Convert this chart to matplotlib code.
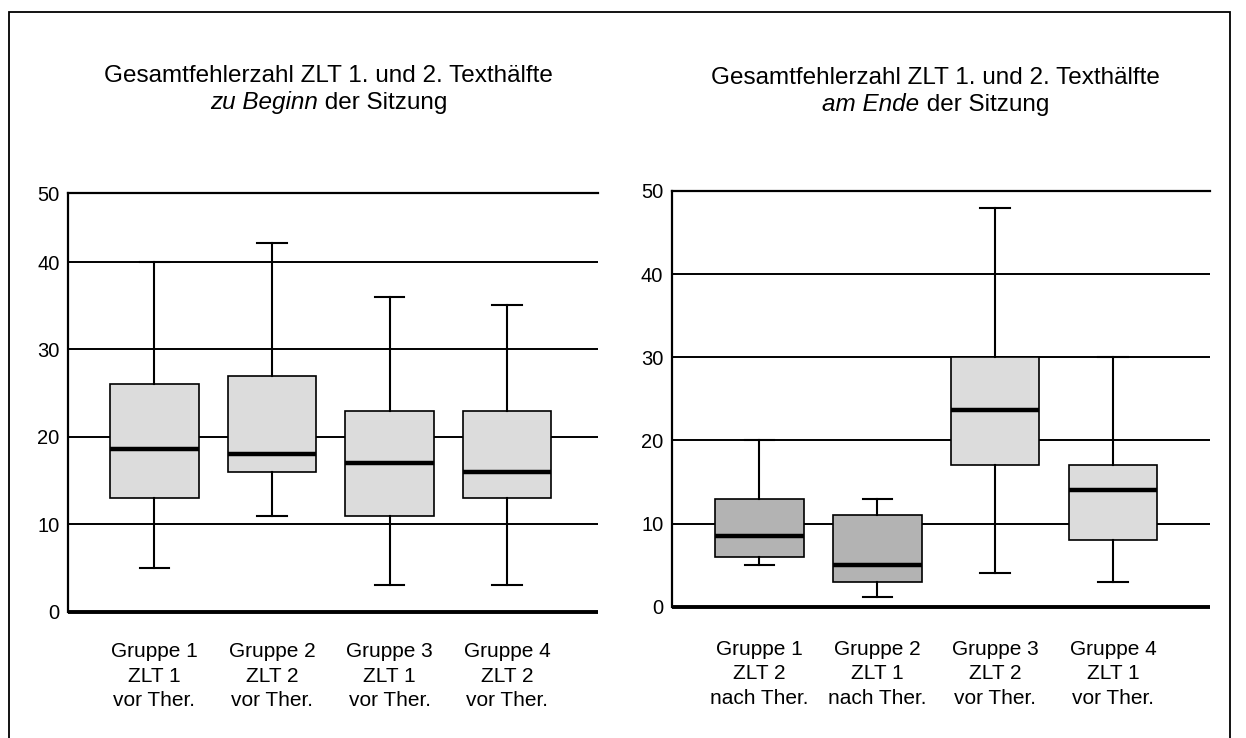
import numpy as np
import matplotlib.pyplot as plt
from matplotlib.patches import Rectangle

plt.rcParams['font.family'] = ['Liberation Sans', 'DejaVu Sans']

# Gesamtfehlerzahl, Box-Kennwerte je Gruppe
labels_begin = ["Gruppe 1\nZLT 1\nvor Ther.", "Gruppe 2\nZLT 2\nvor Ther.",
                "Gruppe 3\nZLT 1\nvor Ther.", "Gruppe 4\nZLT 2\nvor Ther."]
begin_whislo = [5, 11, 3, 3]
begin_q1 = [13, 16, 11, 13]
begin_med = [18.6, 18, 17, 16]
begin_q3 = [26, 27, 23, 23]
begin_whishi = [40, 42.2, 36, 35.1]

labels_end = ["Gruppe 1\nZLT 2\nnach Ther.", "Gruppe 2\nZLT 1\nnach Ther.",
              "Gruppe 3\nZLT 2\nvor Ther.", "Gruppe 4\nZLT 1\nvor Ther."]
end_whislo = [5, 1.2, 4, 3]
end_q1 = [6, 3, 17, 8]
end_med = [8.5, 5, 23.6, 14]
end_q3 = [13, 11, 30, 17]
end_whishi = [20, 13, 48, 30]

ytick_labels = ["0", "10", "20", "30", "40", "50"]
# in der Vorlage sitzt die obere "50"-Linie links etwas tiefer als 50
begin_ytop = 47.9
end_ytop = 50

LIGHT = '#dcdcdc'
DARK = '#b3b3b3'
begin_colors = [LIGHT, LIGHT, LIGHT, LIGHT]
end_colors = [DARK, DARK, LIGHT, LIGHT]

W, H = 1246, 738
fig = plt.figure(figsize=(W / 100, H / 100), dpi=100)

# Rahmen um die ganze Grafik
fig.patches.append(Rectangle((9 / W, -0.1), (1230 - 9) / W, 1.1 - 12 / H,
                             transform=fig.transFigure, fill=False,
                             edgecolor='black', linewidth=1.3))


def px_axes(x0, x1, y_top, y_bot):
    return fig.add_axes([x0 / W, 1 - y_bot / H, (x1 - x0) / W, (y_bot - y_top) / H])


def draw_panel(ax, whislo, q1, med, q3, whishi, colors, labels, xlim, ytop, labelpad):
    stats = []
    for i in range(len(med)):
        stats.append(dict(whislo=whislo[i], q1=q1[i], med=med[i], q3=q3[i],
                          whishi=whishi[i], fliers=[]))
    pos = np.arange(1, len(med) + 1)
    bp = ax.bxp(stats, positions=pos, widths=0.752, capwidths=0.25,
                patch_artist=True, showfliers=False,
                boxprops=dict(edgecolor='black', linewidth=1.2),
                whiskerprops=dict(color='black', linewidth=1.5),
                capprops=dict(color='black', linewidth=1.5),
                medianprops=dict(color='black', linewidth=3.2, solid_capstyle='butt'),
                zorder=3)
    for patch, c in zip(bp['boxes'], colors):
        patch.set_facecolor(c)
    ax.set_xlim(*xlim)
    ax.set_ylim(0, ytop)
    ax.set_yticks([0, 10, 20, 30, 40, ytop])
    ax.set_yticklabels(ytick_labels)
    ax.yaxis.grid(True, color='black', linewidth=1.4, zorder=0)
    ax.set_axisbelow(True)
    ax.spines['right'].set_visible(False)
    ax.spines['top'].set_linewidth(1.6)
    ax.spines['left'].set_linewidth(1.6)
    ax.spines['bottom'].set_linewidth(2.8)
    ax.spines['bottom'].set_capstyle('butt')
    ax.set_xticks(pos)
    ax.set_xticklabels(labels, fontsize=15, linespacing=1.36)
    ax.tick_params(axis='x', length=0, pad=labelpad)
    ax.tick_params(axis='y', length=0, pad=6, labelsize=14.5)


ax1 = px_axes(68, 598, 193, 611.7)
draw_panel(ax1, begin_whislo, begin_q1, begin_med, begin_q3, begin_whishi,
           begin_colors, labels_begin, (0.264, 4.774), begin_ytop, 22)

ax2 = px_axes(671.7, 1210.3, 191, 606.7)
draw_panel(ax2, end_whislo, end_q1, end_med, end_q3, end_whishi,
           end_colors, labels_end, (0.255, 4.826), end_ytop, 24)

# Titel: zweite Zeile mit kursivem Teil
renderer = fig.canvas.get_renderer()
TS = 17.5


def title(cx, y1, y2, italic_part, rest):
    fig.text(cx / W, 1 - y1 / H, "Gesamtfehlerzahl ZLT 1. und 2. Texthälfte",
             ha='center', va='baseline', fontsize=TS)
    t_it = fig.text(0, 1 - y2 / H, italic_part, style='italic',
                    ha='left', va='baseline', fontsize=TS)
    t_rest = fig.text(0, 1 - y2 / H, rest, ha='left', va='baseline', fontsize=TS)
    w_it = t_it.get_window_extent(renderer).width
    w_rest = t_rest.get_window_extent(renderer).width
    left = cx - (w_it + w_rest) / 2
    t_it.set_x(left / W)
    t_rest.set_x((left + w_it) / W)


title(328.6, 82, 109, "zu Beginn", " der Sitzung")
title(935.7, 84, 111, "am Ende", " der Sitzung")

fig.savefig('out.png', dpi=100)
